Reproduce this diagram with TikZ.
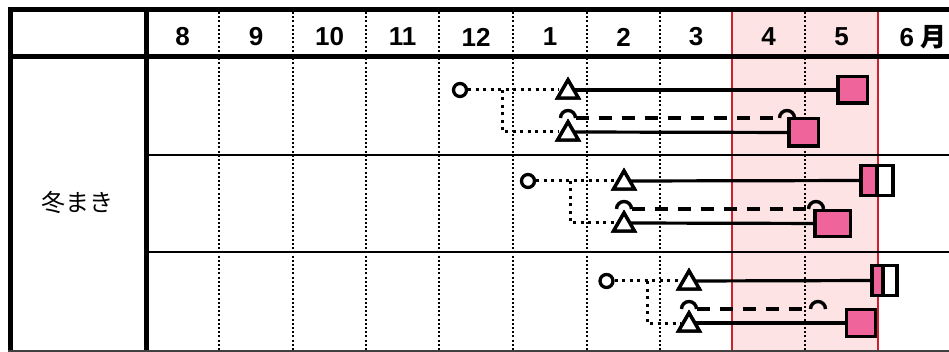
\documentclass[tikz,border=0pt]{standalone}
\usepackage{fontspec}
\setmainfont{Liberation Sans}
\newfontfamily\jpfont{Noto Sans CJK JP}
\usetikzlibrary{shapes.geometric,calc}
\definecolor{hl}{HTML}{FDE3E4}
\definecolor{hlred}{HTML}{D0202E}
\definecolor{sqpink}{HTML}{F0649C}
\begin{document}
\begin{tikzpicture}[x=1pt,y=-1pt,
  month/.style={font=\fontsize{26}{26}\selectfont\bfseries, inner sep=0pt},
  rowlabel/.style={font=\jpfont\fontsize{24}{24}\selectfont, inner sep=0pt},
  gridln/.style={line width=2.2pt, dash pattern=on 2pt off 2.2pt},
  redln/.style={line width=2.2pt, hlred},
  tblline/.style={line width=5pt},
  rowsep/.style={line width=1.5pt},
  circ/.style={circle, draw, line width=3.3pt, minimum size=13pt, inner sep=0pt},
  tri/.style={regular polygon, regular polygon sides=3, draw, line width=3.4pt, minimum size=24pt, inner sep=0pt, fill=white},
  sq/.style={rectangle, draw, line width=3.5pt, fill=sqpink, inner sep=0pt},
  halfsq/.style={rectangle, draw, line width=3.5pt, inner sep=0pt, outer sep=0pt},
  dotln/.style={line width=3pt, dash pattern=on 3pt off 4.5pt},
  solidln/.style={line width=3.2pt},
  dashln/.style={line width=3.4pt, dash pattern=on 13pt off 10pt},
  capln/.style={line width=3.4pt}
]
\useasboundingbox (0,0) rectangle (949,352);
% highlight
\fill[hl] (732,10) rectangle (878,352);
% grid dotted
\foreach \x in {219,293,366,439,513,587,660,805}
  \draw[gridln] (\x,12) -- (\x,352);
% red borders
\draw[redln] (732,12) -- (732,352);
\draw[redln] (878,12) -- (878,352);
% table
\draw[tblline] (10,10) -- (949,10);
\draw[line width=4.5pt] (10,56.5) -- (949,56.5);
\draw[tblline] (10,7.5) -- (10,352);
\draw[tblline] (146,7.5) -- (146,352);
\draw[line width=2pt, black!75] (8,351) -- (949,351);
\draw[rowsep] (146,155) -- (949,155);
\draw[rowsep] (146,252) -- (949,252);
% header
\node[month] (m8) at (182.5,37) {8};
\node[month] (m9) at (256,37) {9};
\node[month] (m10) at (329.5,37) {10};
\node[month] (m11) at (402.5,37) {11};
\node[month] (m12) at (476,37) {12};
\node[month] (m1) at (550,37) {1};
\node[month] (m2) at (623.5,37) {2};
\node[month] (m3) at (696,37) {3};
\node[month] (m4) at (768.5,37) {4};
\node[month] (m5) at (841.5,37) {5};
\node[month] (m6) at (923,37) {6\hspace{0.25em}{\jpfont\bfseries 月}};
\node[rowlabel] (lab) at (77,202) {冬まき};

% ---------- row 1 ----------
\node[circ] (c1) at (460,90) {};
\node[tri] (t11) at (568,92) {};
\node[tri] (t12) at (568,134) {};
\node[sq, minimum width=29.5pt, minimum height=26.5pt] (s11) at (852.5,90) {};
\node[sq, minimum width=29.5pt, minimum height=27.5pt] (s12) at (803.5,132.5) {};
\coordinate (b1) at (502,132);
\coordinate (a11) at (568,118);
\coordinate (a12) at (787,118);
\draw[dotln] (c1) -- (c1 -| t11.west);
\draw[dotln] (c1 -| b1) -- (b1) -- (b1 -| t12.west);
\draw[solidln] (c1 -| t11) -- (s11);
\draw[solidln] (b1 -| t12) -- (s12);
\draw[capln] ($(a11)+(-7.5,0)$) arc[start angle=180,end angle=360,radius=7.5];
\draw[capln] ($(a12)+(-7.5,0)$) arc[start angle=180,end angle=360,radius=7.5];
\draw[dashln] ($(a11)+(7.5,0)$) -- ($(a12)+(-7.5,0)$);
\node[tri] at (t11) {};
\node[tri] at (t12) {};

% ---------- row 2 ----------
\node[circ] (c2) at (528,181) {};
\node[tri] (t21) at (624,183) {};
\node[tri] (t22) at (624,225) {};
\node[halfsq, fill=sqpink, minimum width=16pt, minimum height=30pt, anchor=east] (s21a) at (877,180.5) {};
\node[halfsq, fill=white, minimum width=16pt, minimum height=30pt, anchor=west] (s21b) at (s21a.east) {};
\node[sq, minimum width=35.5pt, minimum height=26pt] (s22) at (832.5,223.5) {};
\coordinate (b2) at (570,223);
\coordinate (a21) at (624,209);
\coordinate (a22) at (816,209);
\draw[dotln] (c2) -- (c2 -| t21.west);
\draw[dotln] (c2 -| b2) -- (b2) -- (b2 -| t22.west);
\draw[solidln] (c2 -| t21) -- (s21a);
\draw[solidln] (b2 -| t22) -- (s22);
\draw[capln] ($(a21)+(-7.5,0)$) arc[start angle=180,end angle=360,radius=7.5];
\draw[capln] ($(a22)+(-7.5,0)$) arc[start angle=180,end angle=360,radius=7.5];
\draw[dashln] ($(a21)+(7.5,0)$) -- ($(a22)+(-7.5,0)$);
\node[tri] at (t21) {};
\node[tri] at (t22) {};

% ---------- row 3 ----------
\node[circ] (c3) at (606.5,281) {};
\node[tri] (t31) at (689,283) {};
\node[tri] (t32) at (689,325) {};
\node[halfsq, fill=sqpink, minimum width=11pt, minimum height=30pt, anchor=east] (s31a) at (883,280.5) {};
\node[halfsq, fill=white, minimum width=14pt, minimum height=30pt, anchor=west] (s31b) at (s31a.east) {};
\node[sq, minimum width=29pt, minimum height=27pt] (s32) at (861,323) {};
\coordinate (b3) at (647,323);
\coordinate (a31) at (689,309);
\coordinate (a32) at (818,309);
\draw[dotln] (c3) -- (c3 -| t31.west);
\draw[dotln] (c3 -| b3) -- (b3) -- (b3 -| t32.west);
\draw[solidln] (c3 -| t31) -- (s31a);
\draw[solidln] (b3 -| t32) -- (s32);
\draw[capln] ($(a31)+(-7.5,0)$) arc[start angle=180,end angle=360,radius=7.5];
\draw[capln] ($(a32)+(-7.5,0)$) arc[start angle=180,end angle=360,radius=7.5];
\draw[dashln] ($(a31)+(7.5,0)$) -- ($(a32)+(-7.5,0)$);
\node[tri] at (t31) {};
\node[tri] at (t32) {};
\end{tikzpicture}
\end{document}
